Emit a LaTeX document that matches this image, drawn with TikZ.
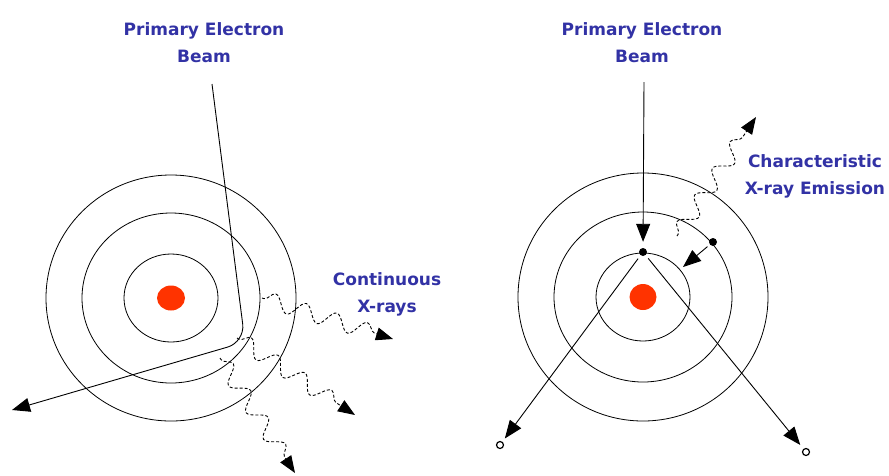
\documentclass[tikz,border=0pt]{standalone}
\usepackage{fontspec}
\setmainfont{DejaVu Sans}
\usetikzlibrary{arrows.meta,shapes.geometric,decorations.pathmorphing}
\definecolor{labelblue}{RGB}{50,50,165}
\definecolor{nucleusred}{RGB}{255,51,0}

\begin{document}
\begin{tikzpicture}[
  x=1pt, y=-1pt,
  shell/.style={draw, line width=0.8pt},
  nucleus/.style={ellipse, fill=nucleusred, inner sep=0pt,
                  minimum width=28pt, minimum height=25pt},
  tag/.style={font=\bfseries\fontsize{17}{27}\selectfont, text=labelblue, align=center},
  beam/.style={line width=0.9pt, -{Triangle[length=18pt,width=14pt]}},
  xray/.style={line width=0.9pt, densely dashed, -{Triangle[length=17pt,width=13pt]},
               decorate, decoration={snake, amplitude=8pt, segment length=32pt,
               pre length=2pt, post length=16pt}},
  electron/.style={circle, fill, inner sep=0pt, minimum size=8pt},
  freeel/.style={circle, draw, line width=1.2pt, inner sep=0pt, minimum size=7pt}
]
\useasboundingbox (0,0) rectangle (889,475);

% left atom: bremsstrahlung
\coordinate (L) at (171,298);
\draw[shell] (L) ellipse [x radius=47, y radius=44];
\draw[shell] (L) ellipse [x radius=89, y radius=85];
\draw[shell] (L) ellipse [x radius=125, y radius=123];
\node[nucleus] (nucL) at (L) {};

\node[tag] (beamL) at (204,43) {Primary Electron\\Beam};
\node[tag] (contX) at (387,294) {Continuous\\X-rays};

\coordinate (lin) at (212,84);
\coordinate (lbend) at (245,342);
\coordinate (lout) at (12,410);
\draw[beam, rounded corners=18pt] (lin) -- (lbend) -- (lout);

\coordinate (xa0) at (262,298);
\coordinate (xa1) at (393,339);
\coordinate (xb0) at (237,338);
\coordinate (xb1) at (355,415);
\coordinate (xc0) at (220,358);
\coordinate (xc1) at (295,473);
\draw[xray] (xa0) -- (xa1);
\draw[xray] (xb0) -- (xb1);
\draw[xray] (xc0) -- (xc1);

% right atom: characteristic emission
\coordinate (R) at (643,297);
\draw[shell] (R) ellipse [x radius=47, y radius=44];
\draw[shell] (R) ellipse [x radius=89, y radius=85];
\draw[shell] (R) ellipse [x radius=125, y radius=124];
\node[nucleus, minimum width=27pt, minimum height=26pt] (nucR) at (R) {};

\node[tag] (beamR) at (642,43) {Primary Electron\\Beam};
\node[tag] (charX) at (815,176) {Characteristic\\X-ray Emission};

\coordinate (rin) at (644,82);
\node[electron] (e1) at (643,252) {};
\node[electron] (e2) at (713,242) {};
\node[freeel] (o1) at (500,445) {};
\node[freeel] (o2) at (806,452) {};
\coordinate (e2to) at (683,267);

\draw[beam, shorten >=6pt] (rin) -- (e1);
\draw[beam, shorten <=4pt, shorten >=4pt] (e1) -- (o1);
\draw[beam, shorten <=4pt, shorten >=5pt] (e1) -- (o2);
\draw[beam, shorten <=3pt] (e2) -- (e2to);

\coordinate (cx0) at (677,236);
\coordinate (cx1) at (756,117);
\draw[xray] (cx0) -- (cx1);
\end{tikzpicture}
\end{document}
